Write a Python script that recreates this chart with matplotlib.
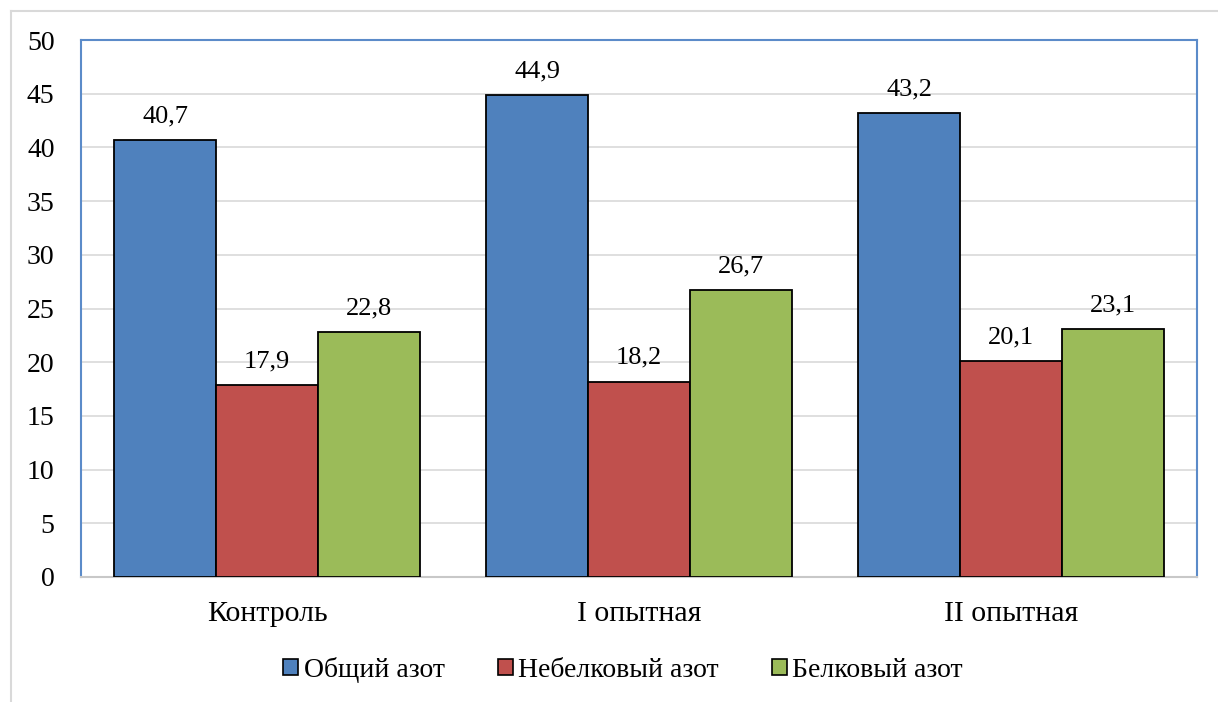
import matplotlib
matplotlib.use("Agg")
import matplotlib.pyplot as plt
import numpy as np
from matplotlib.lines import Line2D

plt.rcParams['font.family'] = ['Liberation Serif', 'DejaVu Serif']

categories = ["Контроль", "I опытная", "II опытная"]
series_names = ["Общий азот", "Небелковый азот", "Белковый азот"]
total_n = [40.7, 44.9, 43.2]
nonprotein_n = [17.9, 18.2, 20.1]
protein_n = [22.8, 26.7, 23.1]
y_ticks = [0, 5, 10, 15, 20, 25, 30, 35, 40, 45, 50]

colors = ["#4f81bd", "#c0504d", "#9bbb59"]

fig = plt.figure(figsize=(12.18, 7.02), dpi=100)
ax = fig.add_axes([81/1218, 1 - 577/702, (1197 - 81)/1218, (577 - 40)/702])

x = np.arange(len(categories))
width = 0.274
series = [total_n, nonprotein_n, protein_n]
for i, (vals, name, col) in enumerate(zip(series, series_names, colors)):
    bars = ax.bar(x + (i - 1) * width, vals, width, color=col, edgecolor="black",
                  linewidth=1.3, label=name, zorder=3)
    for b, v in zip(bars, vals):
        ax.text(b.get_x() + b.get_width() / 2, v + 1.65, f"{v:.1f}".replace(".", ","),
                ha="center", va="baseline", fontsize=19, color="black")

ax.set_xlim(-0.5, 2.5)
ax.set_ylim(0, 50)
ax.set_yticks(y_ticks)
ax.set_yticklabels([str(t) for t in y_ticks], fontsize=20)
ax.set_xticks(x)
ax.set_xticklabels(categories, fontsize=21.5)
ax.tick_params(axis="y", length=0, pad=19)
ax.tick_params(axis="x", length=0, pad=17)
ax.grid(axis="y", color="#d9d9d9", linewidth=1.2, zorder=0)

for side in ["left", "top", "right"]:
    ax.spines[side].set_color("#5b8bc9")
    ax.spines[side].set_linewidth(1.5)
ax.spines["bottom"].set_color("#c8c8c8")
ax.spines["bottom"].set_linewidth(1.5)

leg = fig.legend(loc="center", bbox_to_anchor=(623/1218, 1 - 670/702), ncol=3,
                 frameon=False, fontsize=20, handlelength=0.54, handleheight=0.54,
                 handletextpad=0.2, columnspacing=1.9)
for h in leg.legend_handles:
    h.set_linewidth(1.2)

# outer chart frame
fig.add_artist(Line2D([10.5/1218, 10.5/1218], [0, 1 - 10.5/702], transform=fig.transFigure,
                      color="#d9d9d9", linewidth=1.5))
fig.add_artist(Line2D([10.5/1218, 1], [1 - 10.5/702, 1 - 10.5/702], transform=fig.transFigure,
                      color="#d9d9d9", linewidth=1.5))

fig.savefig("out.png", dpi=100, facecolor="white")
